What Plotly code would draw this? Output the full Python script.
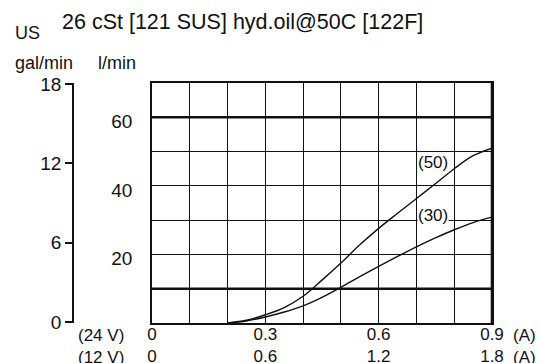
import plotly.graph_objects as go

# ---- data ----
current_24v = [0.2, 0.25, 0.3, 0.35, 0.4, 0.45, 0.5, 0.55, 0.6, 0.65, 0.7, 0.75, 0.8, 0.85, 0.9]
flow_50 = [0, 0.8, 2.4, 4.5, 7.8, 12.5, 17.5, 22.8, 27.6, 32.0, 36.3, 40.6, 45.0, 48.8, 51.0]
flow_30 = [0, 0.6, 1.75, 3.2, 5.0, 7.5, 10.4, 13.5, 16.5, 19.4, 22.2, 24.8, 27.2, 29.3, 30.9]
series_names = ["(50)", "(30)"]
label_pos = [(0.745, 46.7), (0.745, 31.3)]

x24_ticks = [0, 0.3, 0.6, 0.9]
x24_text = ["0", "0.3", "0.6", "0.9"]
x12_text = ["0", "0.6", "1.2", "1.8"]
lmin_ticks = [20, 40, 60]
gal_ticks = [0, 6, 12, 18]
thick_lmin = [10, 60]
thick_amp = [0.9]

FONT = "Liberation Sans, Arial, sans-serif"
INK = "#111111"

fig = go.Figure()
for name, ys in zip(series_names, [flow_50, flow_30]):
    fig.add_trace(go.Scatter(x=current_24v, y=ys, mode="lines", name=name,
                             line=dict(color=INK, width=1.4, shape="spline"),
                             showlegend=False, hoverinfo="skip"))
# dummy trace to carry the gal/min axis
fig.add_trace(go.Scatter(x=[0], y=[0], yaxis="y2", mode="markers",
                         marker=dict(opacity=0), showlegend=False, hoverinfo="skip"))

for name, (lx, ly) in zip(series_names, label_pos):
    fig.add_annotation(x=lx, y=ly, xref="x", yref="y", text=name, showarrow=False,
                       font=dict(family=FONT, size=17, color=INK),
                       bgcolor="white", borderpad=0)

for v in thick_lmin:
    fig.add_shape(type="line", xref="x", yref="y", x0=0, x1=0.9, y0=v, y1=v,
                  line=dict(color=INK, width=2.4))
for v in thick_amp:
    fig.add_shape(type="line", xref="x", yref="y", x0=v, x1=v, y0=0, y1=70,
                  line=dict(color=INK, width=2.6))

W, H = 540, 363
ml, mr, mt, mb = 0, 48, 83, 40
pw = W - ml - mr
ph = H - mt - mb

def px(xp):
    return (xp - ml) / pw

def py(yp):
    return (H - mb - yp) / ph

fig.update_layout(
    width=W, height=H,
    margin=dict(l=ml, r=mr, t=mt, b=mb, autoexpand=False),
    paper_bgcolor="white", plot_bgcolor="white",
    font=dict(family=FONT, color=INK),
    title=dict(text="26 cSt [121 SUS] hyd.oil@50C [122F]",
               font=dict(family=FONT, size=21.5, color=INK),
               xref="container", yref="container", automargin=False,
               x=62 / W, xanchor="left", y=1 - 21 / H, yanchor="middle"),
    xaxis=dict(domain=[px(152), 1], range=[0, 0.9], automargin=False,
               tickmode="array", tickvals=x24_ticks,
               ticktext=[a + "<br>" + b for a, b in zip(x24_text, x12_text)],
               tickfont=dict(family=FONT, size=17, color=INK),
               ticks="", ticklabelstandoff=-5,
               showgrid=True, gridcolor=INK, gridwidth=1.2,
               minor=dict(dtick=0.1, tick0=0, showgrid=True, gridcolor=INK, gridwidth=1.2),
               showline=True, linecolor=INK, linewidth=1.8, mirror=True,
               zeroline=False, fixedrange=True),
    yaxis=dict(range=[0, 70], tickmode="array", tickvals=lmin_ticks, automargin=False,
               tickfont=dict(family=FONT, size=19, color=INK),
               ticks="", ticklabelstandoff=14, ticklabelshift=4,
               showgrid=True, gridcolor=INK, gridwidth=1.2,
               minor=dict(dtick=10, tick0=0, showgrid=True, gridcolor=INK, gridwidth=1.2),
               showline=True, linecolor=INK, linewidth=1.8, mirror=True,
               zeroline=False, fixedrange=True),
    yaxis2=dict(overlaying="y", anchor="free", position=px(73), side="left",
                automargin=False,
                range=[-0.08, 18.08], tickmode="array", tickvals=gal_ticks,
                tickfont=dict(family=FONT, size=19, color=INK),
                ticks="outside", ticklen=7, tickwidth=1.5, tickcolor=INK,
                showline=True, linecolor=INK, linewidth=1.7,
                showgrid=False, zeroline=False, fixedrange=True),
)

def ann(text, xp, yp, anchor="center", size=17):
    fig.add_annotation(text=text, xref="paper", yref="paper", x=px(xp), y=py(yp),
                       xanchor=anchor, yanchor="middle", showarrow=False,
                       font=dict(family=FONT, size=size, color=INK))

ann("US", 13, 33, "left", 18)
ann("gal/min", 13, 63, "left", 18)
ann("l/min", 96, 63, "left", 18)
ann("(24 V)", 101, 335)
ann("(12 V)", 101, 357)
ann("(A)", 524, 335)
ann("(A)", 524, 357)

fig.write_html("out.html", config={"displayModeBar": False},
               post_script="document.body.style.margin='0';document.body.style.overflow='hidden';")
